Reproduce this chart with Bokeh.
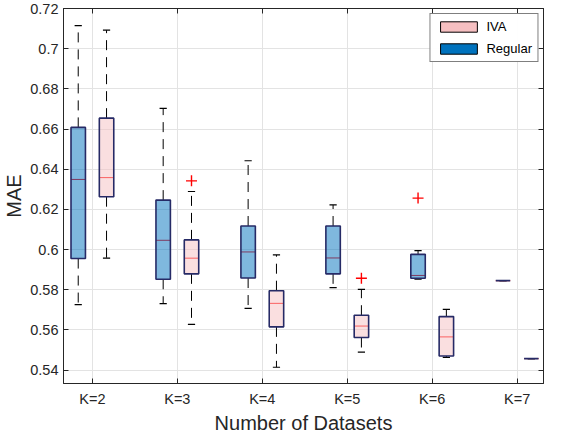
from bokeh.plotting import figure
from bokeh.models import (ColumnDataSource, FixedTicker, LinearAxis, Range1d,
                          Legend, LegendItem)
from bokeh.embed import file_html
from bokeh.resources import INLINE

# ---- data ----
ks = [2, 3, 4, 5, 6, 7]
tick_labels = ["K=2", "K=3", "K=4", "K=5", "K=6", "K=7"]

reg_lo = [0.5726, 0.5731, 0.5707, 0.5810, 0.5853, 0.5845]
reg_q1 = [0.5955, 0.5852, 0.5858, 0.5879, 0.5857, 0.5845]
reg_med = [0.6349, 0.6046, 0.5988, 0.5958, 0.5871, 0.5845]
reg_q3 = [0.6608, 0.6246, 0.6117, 0.6117, 0.5976, 0.5845]
reg_hi = [0.7115, 0.6703, 0.6442, 0.6222, 0.5995, 0.5845]
reg_out_k = [6]
reg_out_v = [0.6256]

iva_lo = [0.5957, 0.5627, 0.5414, 0.5489, 0.5463, 0.5457]
iva_q1 = [0.6263, 0.5879, 0.5615, 0.5562, 0.5470, 0.5457]
iva_med = [0.6358, 0.5957, 0.5732, 0.5619, 0.5565, 0.5457]
iva_q3 = [0.6654, 0.6048, 0.5795, 0.5673, 0.5666, 0.5457]
iva_hi = [0.7092, 0.6289, 0.5973, 0.5802, 0.5702, 0.5457]
iva_out_k = [3, 5]
iva_out_v = [0.6342, 0.5857]

y_ticks = [0.54, 0.56, 0.58, 0.6, 0.62, 0.64, 0.66, 0.68, 0.7, 0.72]
y_tick_labels = ["0.54", "0.56", "0.58", "0.6", "0.62", "0.64", "0.66", "0.68", "0.7", "0.72"]

BLUE = "#0072BD"
PINK = "#F6BFC1"
EDGE = "#262a66"
AX = "#262626"
FONT = "Liberation Sans"

p = figure(width=546, height=436, output_backend="svg", toolbar_location=None,
           x_range=Range1d(1.66, 7.31), y_range=Range1d(0.5333, 0.72),
           min_border_left=10, min_border_right=3, min_border_top=8, min_border_bottom=0)
p.background_fill_color = "white"
p.border_fill_color = "white"
p.outline_line_color = AX
p.outline_line_width = 1

off = 1 / 6
bw = 0.17
cw = 0.085


def draw_group(dx, lo, q1, med, q3, hi, color, ok, ov):
    xs = [k + dx for k in ks]
    src = ColumnDataSource(dict(x=xs, lo=lo, q1=q1, med=med, q3=q3, hi=hi,
                                l=[x - bw / 2 for x in xs], r=[x + bw / 2 for x in xs],
                                cl=[x - cw / 2 for x in xs], cr=[x + cw / 2 for x in xs]))
    p.segment("x", "q3", "x", "hi", source=src, line_color="black", line_dash="10 7", line_width=1)
    p.segment("x", "q1", "x", "lo", source=src, line_color="black", line_dash="10 7", line_width=1)
    p.segment("cl", "hi", "cr", "hi", source=src, line_color="black", line_width=1.2)
    p.segment("cl", "lo", "cr", "lo", source=src, line_color="black", line_width=1.2)
    p.segment("l", "med", "r", "med", source=src, line_color="red", line_width=1)
    p.quad(left="l", right="r", bottom="q1", top="q3", source=src,
           fill_color=color, fill_alpha=0.5, line_color=EDGE, line_width=1.6)
    p.scatter(x=[k + dx for k in ok], y=ov, marker="cross", size=11,
              line_color="red", line_width=1.4)
    # full-colour swatch for the legend only (hidden in the plot)
    return p.quad(left="l", right="r", bottom="q1", top="q3", source=src, visible=False,
                  fill_color=color, fill_alpha=1, line_color="black", line_width=1)


leg_reg = draw_group(-off, reg_lo, reg_q1, reg_med, reg_q3, reg_hi, BLUE, reg_out_k, reg_out_v)
leg_iva = draw_group(off, iva_lo, iva_q1, iva_med, iva_q3, iva_hi, PINK, iva_out_k, iva_out_v)

legend = Legend(items=[LegendItem(label="IVA", renderers=[leg_iva]),
                       LegendItem(label="Regular", renderers=[leg_reg])],
                location="top_right", glyph_width=46, glyph_height=13,
                label_text_font=FONT, label_text_font_size="13px", label_standoff=5,
                padding=5, spacing=7, margin=5, border_line_color="black",
                border_line_width=1, label_text_color="black", label_height=13,
                click_policy="none", inactive_fill_alpha=0)
p.add_layout(legend)

# axes
p.xaxis.ticker = FixedTicker(ticks=ks)
p.xaxis.major_label_overrides = dict(zip(ks, tick_labels))
p.yaxis.ticker = FixedTicker(ticks=y_ticks)
p.yaxis.major_label_overrides = dict(zip(y_ticks, y_tick_labels))
p.xaxis.axis_label = "Number of Datasets"
p.yaxis.axis_label = "MAE"

for ax in (p.xaxis[0], p.yaxis[0]):
    ax.axis_line_color = AX
    ax.major_tick_line_color = AX
    ax.major_tick_in = 5
    ax.major_tick_out = 0
    ax.minor_tick_line_color = None
    ax.major_label_text_font = FONT
    ax.major_label_text_font_size = "14.5px"
    ax.major_label_text_color = AX
    ax.axis_label_text_font = FONT
    ax.axis_label_text_font_size = "20px"
    ax.axis_label_text_font_style = "normal"
    ax.axis_label_text_color = AX
p.yaxis.major_label_standoff = 5
p.yaxis.axis_label_standoff = 2
p.xaxis.major_label_standoff = 7
p.xaxis.axis_label_standoff = 2

top_ax = LinearAxis(ticker=FixedTicker(ticks=ks), major_label_overrides={k: "" for k in ks},
                    major_tick_in=5, major_tick_out=0, minor_tick_line_color=None,
                    axis_line_color=AX, major_tick_line_color=AX, major_label_standoff=0)
right_ax = LinearAxis(ticker=FixedTicker(ticks=y_ticks), major_label_overrides={t: "" for t in y_ticks},
                      major_tick_in=5, major_tick_out=0, minor_tick_line_color=None,
                      axis_line_color=AX, major_tick_line_color=AX, major_label_standoff=0)
p.add_layout(top_ax, "above")
p.add_layout(right_ax, "right")

p.xgrid.grid_line_color = "#e3e3e3"
p.ygrid.grid_line_color = "#e3e3e3"
p.xgrid.ticker = FixedTicker(ticks=ks)
p.ygrid.ticker = FixedTicker(ticks=y_ticks)

open("out.html", "w").write(file_html(p, INLINE))
